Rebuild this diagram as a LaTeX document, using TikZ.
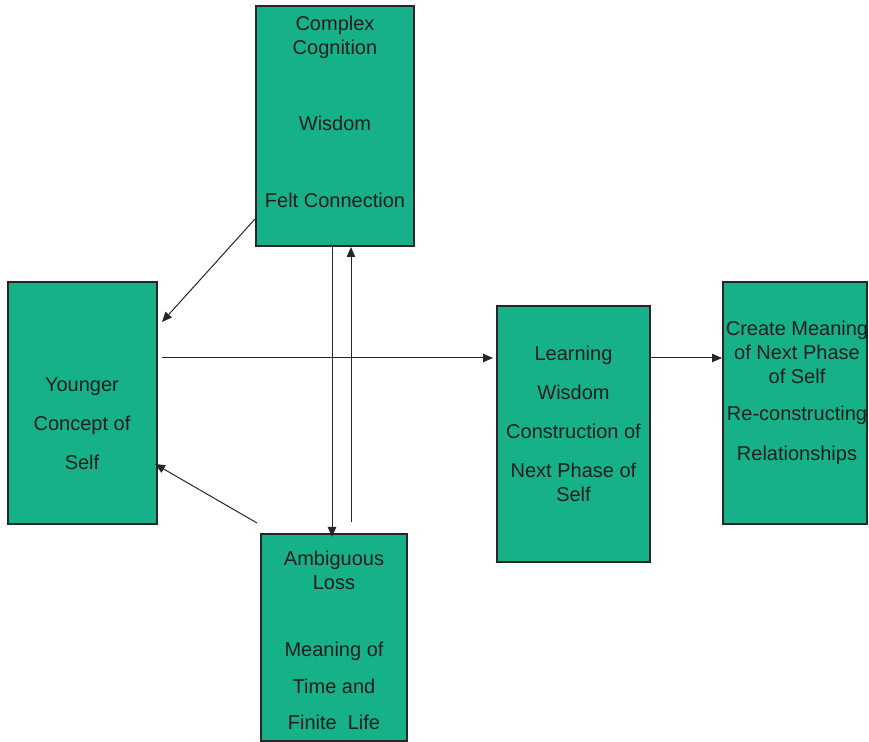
\documentclass[tikz,border=0pt]{standalone}
\usepackage{tikz}
\usetikzlibrary{arrows.meta}
\usepackage{fontspec}
\setmainfont{Liberation Sans}
\definecolor{BoxGreen}{RGB}{22,177,137}
\definecolor{EdgeGray}{RGB}{38,38,38}
\definecolor{TextGray}{RGB}{30,30,30}

\begin{document}
\begin{tikzpicture}[x=0.5pt,y=-0.5pt,
  box/.style={draw=EdgeGray,fill=BoxGreen,line width=1pt,inner sep=0pt},
  txt/.style={align=center,inner sep=0pt,text=TextGray,
              font=\fontsize{10}{12}\selectfont},
  arr/.style={-{Triangle[length=5pt,width=4.2pt]},line width=0.5pt,EdgeGray},
]
\useasboundingbox (0,0) rectangle (869,742);
\node[box,minimum width=79pt,minimum height=120pt] (cog) at (335,126) {};
\node[box,minimum width=74.5pt,minimum height=121pt] (young) at (82.5,403) {};
\node[box,minimum width=73pt,minimum height=103.5pt] (loss) at (334,637.5) {};
\node[box,minimum width=76.5pt,minimum height=128pt] (learn) at (573.5,434) {};
\node[box,minimum width=72pt,minimum height=121pt] (meaning) at (795,403) {};
\node[txt] (cogtxt) at (335,112)
  {Complex\\Cognition\\[26pt]Wisdom\\[26.5pt]Felt Connection};
\node[txt] (youngtxt) at (82,424)
  {Younger\\[7.5pt]Concept of\\[7.5pt]Self};
\node[txt] (losstxt) at (334,640)
  {Ambiguous\\Loss\\[21.5pt]Meaning of\\[6.5pt]Time and\\[6pt]Finite\ \ Life};
\node[txt] (learntxt) at (573.5,424)
  {Learning\\[7.5pt]Wisdom\\[7.5pt]Construction of\\[7.5pt]Next Phase of\\Self};
\node[txt] (meaningtxt) at (797,393)
  {Create Meaning\\of Next Phase\\of Self\\[6.5pt]Re-constructing\\[8pt]Relationships};
\draw[arr] ([yshift=14pt]cog.south west) -- ([xshift=2pt,yshift=-20.5pt]young.north east);
\draw[arr] ([xshift=-1.5pt,yshift=5pt]loss.north west) -- ([xshift=-1.5pt,yshift=30.5pt]young.south east);
\draw[arr] ([xshift=2pt,yshift=-38.5pt]young.north east) -- ([xshift=-1.5pt,yshift=-26.5pt]learn.north west);
\draw[arr] ([yshift=-26.5pt]learn.north east) -- ([yshift=-38.5pt]meaning.north west);
\draw[arr] ([xshift=-1.5pt]cog.south) -- ([xshift=-1pt,yshift=-2pt]loss.north);
\draw[arr] ([xshift=8.5pt,yshift=5.5pt]loss.north) -- ([xshift=8pt]cog.south);
\end{tikzpicture}
\end{document}
